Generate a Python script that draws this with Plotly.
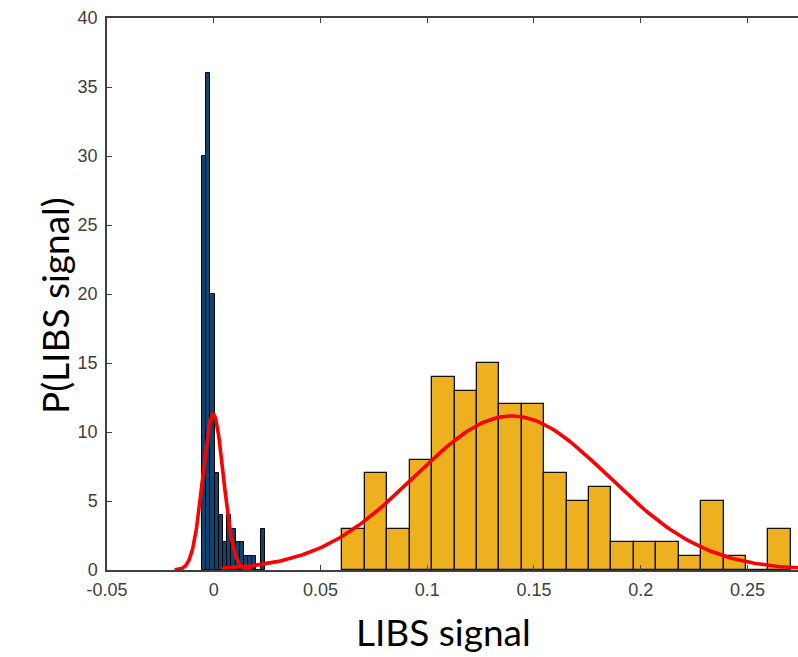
import numpy as np
import plotly.graph_objects as go

# ---- data ----
blue_counts = [30, 36, 20, 7, 4, 2, 4, 3, 2, 2, 1, 1, 1, 0, 3]
blue_bin_start = -0.00548
blue_bin_width = 0.00196

yellow_counts = [3, 7, 3, 8, 14, 13, 15, 12, 12, 7, 5, 6, 2, 2, 2, 1, 5, 1, 0, 3]
yellow_bin_start = 0.0603
yellow_bin_width = 0.0105

# fitted normal curves (histfit): mean, sigma, peak height, plotted x-range
blue_fit = dict(mu=-0.0003, sigma=0.0048, peak=11.3, x0=-0.0183, x1=0.0177)
yellow_fit = dict(mu=0.1395, sigma=0.0455, peak=11.16, x0=0.0036, x1=0.309)

x_ticks = [-0.05, 0, 0.05, 0.1, 0.15, 0.2, 0.25]
x_tick_labels = ["-0.05", "0", "0.05", "0.1", "0.15", "0.2", "0.25"]
y_ticks = [0, 5, 10, 15, 20, 25, 30, 35, 40]

x_label = "LIBS signal"
y_label = "P(LIBS signal)"


def centers(start, width, n):
    return [start + width * (i + 0.5) for i in range(n)]


def fit_curve(p, n=200):
    xs = np.linspace(p["x0"], p["x1"], n)
    ys = p["peak"] * np.exp(-((xs - p["mu"]) ** 2) / (2 * p["sigma"] ** 2))
    return xs, ys


fig = go.Figure()

fig.add_trace(go.Bar(
    x=centers(blue_bin_start, blue_bin_width, len(blue_counts)),
    y=blue_counts, width=blue_bin_width,
    marker=dict(color="#0f4470", line=dict(color="#000000", width=1.0)),
    showlegend=False,
))
bx, by = fit_curve(blue_fit)
fig.add_trace(go.Scatter(x=bx, y=by, mode="lines",
                         line=dict(color="#ff0000", width=3.6), showlegend=False))

fig.add_trace(go.Bar(
    x=centers(yellow_bin_start, yellow_bin_width, len(yellow_counts)),
    y=yellow_counts, width=yellow_bin_width,
    marker=dict(color="#EDB120", line=dict(color="#111111", width=1.3)),
    showlegend=False,
))
yx, yy = fit_curve(yellow_fit)
fig.add_trace(go.Scatter(x=yx, y=yy, mode="lines",
                         line=dict(color="#ff0000", width=3.6), showlegend=False))

tick_font = dict(family="Liberation Sans, Arial, sans-serif", size=18, color="#404040")

fig.update_layout(
    width=798, height=657,
    margin=dict(l=107, r=0, t=18, b=87),
    paper_bgcolor="white", plot_bgcolor="white",
    bargap=0, barmode="overlay",
    xaxis=dict(
        range=[-0.05, 0.2737], tickmode="array", tickvals=x_ticks, ticktext=x_tick_labels,
        ticks="inside", ticklen=5, tickcolor="#404040", tickwidth=1,
        showline=True, linecolor="#404040", linewidth=1.5, mirror="ticks",
        showgrid=False, zeroline=False, tickfont=tick_font, ticklabelstandoff=3,
    ),
    yaxis=dict(
        range=[0, 40], tickmode="array", tickvals=y_ticks,
        ticks="inside", ticklen=5, tickcolor="#404040", tickwidth=1,
        showline=True, linecolor="#404040", linewidth=1.5, mirror=False,
        showgrid=False, zeroline=False, tickfont=tick_font, ticklabelstandoff=4,
    ),
    annotations=[
        dict(text=x_label, xref="paper", yref="paper", x=0.487, y=0,
             xanchor="center", yanchor="bottom", yshift=-86, showarrow=False,
             font=dict(family="Lato, sans-serif", size=37, color="#000000")),
        dict(text=y_label, xref="paper", yref="paper", x=0, y=0.5,
             xanchor="center", yanchor="middle", xshift=-53, yshift=-12,
             textangle=-90, showarrow=False,
             font=dict(family="Lato, sans-serif", size=37, color="#000000")),
    ],
)

fig.write_html("out.html")
